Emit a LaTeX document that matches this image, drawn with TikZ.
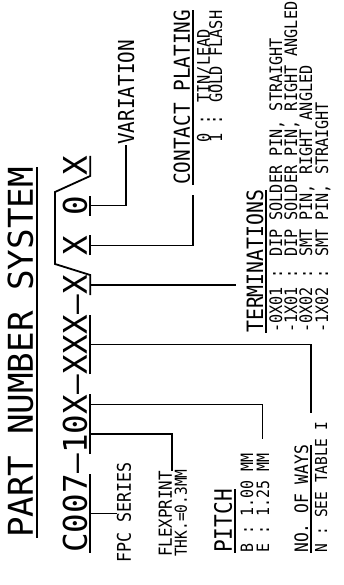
\documentclass[tikz,border=0pt]{standalone}
\usepackage{fontspec}
\newfontfamily\partfont{DejaVu Sans Mono}
\newfontfamily\cadfont[FakeStretch=0.88]{DejaVu Sans Mono}
\newcommand{\fsz}[1]{\fontsize{#1}{#1}\selectfont}
\usetikzlibrary{positioning}

\begin{document}
\begin{tikzpicture}[
    x=1pt, y=1pt,
    title/.style={inner sep=0pt, anchor=base west, text depth=4pt, font=\partfont\fsz{34.2}},
    code/.style={inner sep=0pt, text height=24pt, text depth=3pt, font=\partfont\fsz{32.6}},
    lbl/.style={inner sep=0pt, anchor=base west, text depth=0pt},
    hdg/.style={lbl, text depth=3pt},
    tick/.style={line width=1.8pt},
    lead/.style={line width=1.5pt}
]
\begin{scope}[rotate=90, transform shape]
    \useasboundingbox (0,0) rectangle (585,343);

    % title
    \node (ttl) [title] at (47,310) {PART NUMBER SYSTEM};
    \draw [lead] (ttl.south west) -- (ttl.south east);

    % part number
    \node (ser) [code, anchor=base west] at (32,256) {C007};
    \node (d1) [code, base right=0pt of ser] {–};
    \node (thk) [code, base right=0pt of d1] {10};
    \node (pit) [code, base right=0pt of thk] {X};
    \node (d2) [code, base right=0pt of pit] {–};
    \node (ways) [code, base right=0pt of d2] {XXX};
    \node (d3) [code, base right=0pt of ways] {–};
    \node (trm) [code, base right=0pt of d3] {X};
    \node (plt) [code, base right=19.65pt of trm] {X};
    \node (var) [code, base right=19.65pt of plt] {0};
    \node (lst) [code, base right=19.65pt of var] {X};
    \coordinate (brk1) at (321,288);
    \coordinate (brk2) at (393,288);

    \foreach \n in {ser,thk,pit,ways,plt,var}
        \draw [tick] (\n.south west) -- (\n.south east);
    \draw [tick] (trm.south west) -- (trm.south east) -- (brk1) -- (brk2) -- (lst.south west) -- (lst.south east);

    % labels
    \node (fpc) [lbl, font=\cadfont\fsz{18.9}] at (22,212) {FPC SERIES};
    \node (flex) [lbl, font=\cadfont\fsz{18}] at (28,171) {FLEXPRINT};
    \node (thkv) [lbl, font=\cadfont\fsz{16.5}] at (28,156) {THK.=0.3MM};

    \node (pith) [hdg, font=\cadfont\fsz{24}] at (32,111) {PITCH};
    \node (pb) [lbl, font=\cadfont\fsz{17}] at (32,90) {B : 1.00 MM};
    \node (pe) [lbl, font=\cadfont\fsz{17}] at (32,74) {E : 1.25 MM};

    \node (wayh) [hdg, font=\cadfont\fsz{18.5}] at (32,35) {NO. OF WAYS};
    \node (wn) [lbl, font=\cadfont\fsz{16.5}] at (32,16) {N : SEE TABLE I};

    \node (trmh) [hdg, font=\cadfont\fsz{22.5}] at (252,80) {TERMINATIONS};
    \node (t1) [lbl, font=\cadfont\fsz{17.2}] at (252,61) {-0X01 : DIP SOLDER PIN, STRAIGHT};
    \node (t2) [lbl, font=\cadfont\fsz{17.2}] at (252,46) {-1X01 : DIP SOLDER PIN, RIGHT ANGLED};
    \node (t3) [lbl, font=\cadfont\fsz{17.2}] at (252,31) {-0X02 : SMT PIN, RIGHT ANGLED};
    \node (t4) [lbl, font=\cadfont\fsz{17.2}] at (252,15) {-1X02 : SMT PIN, STRAIGHT};

    \node (plth) [hdg, font=\cadfont\fsz{22}] at (400,153) {CONTACT PLATING};
    \node (p0) [lbl, font=\cadfont\fsz{17.4}] at (442,133) {0 : TIN/LEAD};
    \node (p1) [lbl, font=\cadfont\fsz{17.4}] at (442,121) {1 : GOLD FLASH};

    \node (vart) [lbl, anchor=west, font=\cadfont\fsz{22}] at (440,217) {VARIATION};

    \foreach \h in {pith,wayh,trmh,plth}
        \draw [lead] (\h.south west) -- (\h.south east);

    % leaders
    \draw [lead] (ser.south) -- (ser.south |- fpc.north);
    \draw [lead] (thk.south) |- (flex.south east);
    \draw [lead, shorten >=15pt] (pit.south) |- (pe.east);
    \draw [lead, shorten >=32pt] (ways.south) |- (wayh.south east);
    \draw [lead, shorten >=10pt] (trm.south) -- (trm.south |- trmh.north);
    \draw [lead, shorten >=10pt] (plt.south) |- (plth.south west);
    \draw [lead] (var.south) |- (vart.west);
\end{scope}
\end{tikzpicture}
\end{document}
